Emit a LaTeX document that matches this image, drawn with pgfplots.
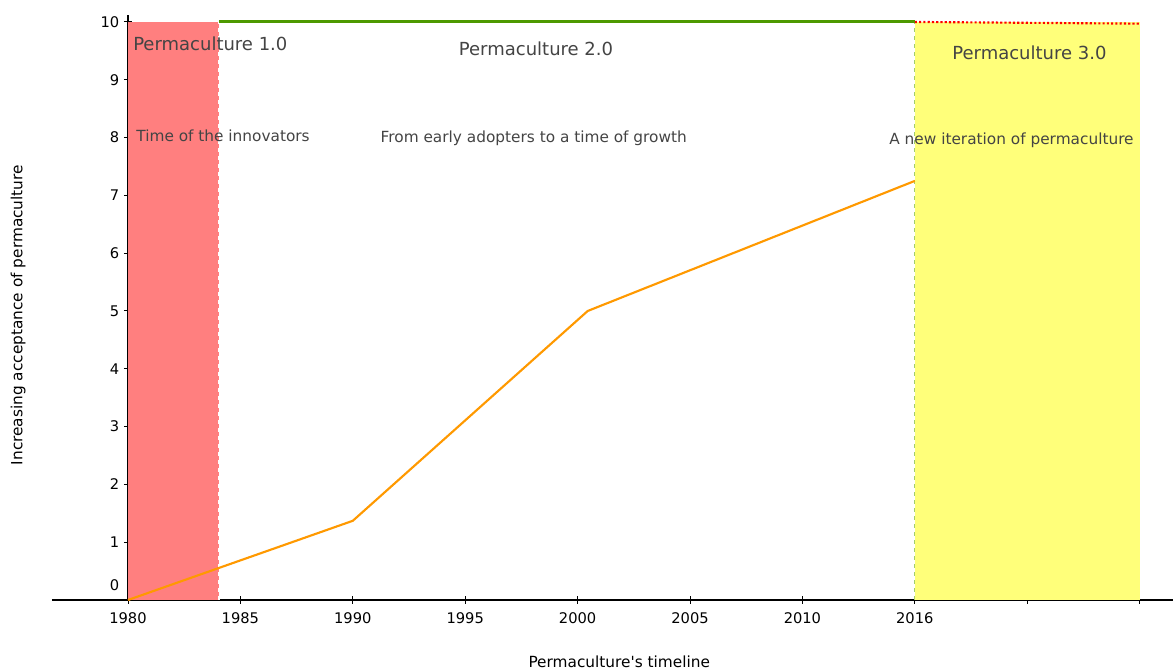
\documentclass[border=0pt]{standalone}
\usepackage{fontspec}
\setmainfont{DejaVu Sans}
\usepackage{pgfplots}
\pgfplotsset{compat=1.18}
\definecolor{bandred}{RGB}{255,127,127}
\definecolor{bandyellow}{RGB}{255,255,122}
\definecolor{topgreen}{RGB}{77,153,0}
\definecolor{lightgreen}{RGB}{160,205,110}
\definecolor{lineorange}{RGB}{255,153,0}
\definecolor{txtgray}{RGB}{68,68,68}
\begin{document}
\begin{tikzpicture}
\begin{axis}[name=ax, scale only axis, width=840.75pt, height=438.75pt,
  xmin=-0.676, xmax=9.297, ymin=0, ymax=10.12,
  axis x line=bottom, axis y line=center,
  axis line style={-, black, line width=0.8pt},
  hide obscured x ticks=false, hide obscured y ticks=false,
  xtick={0,...,9}, xticklabels={1980,1985,1990,1995,2000,2005,2010,2016,{},{}},
  ytick={0,...,10}, yticklabels={\raisebox{22pt}{0},1,2,3,4,5,6,7,8,9,10},
  tick style={black, line width=0.7pt}, major tick length=6pt, tick align=center,
  /pgf/number format/assume math mode=true,
  ticklabel style={font=\fontsize{11}{13}\selectfont, text=black},
  xticklabel style={yshift=-3pt},
  xlabel={Permaculture\textquotesingle s timeline},
  ylabel={Increasing acceptance of permaculture},
  xlabel style={at={(axis description cs:0.506,-0.106)}, anchor=center, font=\fontsize{11.5}{13}\selectfont},
  ylabel style={at={(axis description cs:-0.0303,0.487)}, anchor=center, rotate=90, font=\fontsize{11.5}{13}\selectfont},
  clip=false,
]
% bands
\addplot[draw=none, fill=bandred] coordinates {(0,0) (0.81,0) (0.81,10) (0,10)} -- cycle;
\addplot[draw=none, fill=bandyellow] coordinates {(7,0) (9,0) (9,10) (7,10)} -- cycle;
% dashed verticals
\addplot[white, dashed, line width=0.8pt] coordinates {(0.81,0) (0.81,10)};
\addplot[lightgreen, dashed, line width=0.8pt] coordinates {(7,0) (7,10)};
% top lines
\addplot[topgreen, line width=2.2pt] coordinates {(0.81,10) (7,10)};
\addplot[red, dash pattern=on 1.6pt off 1.6pt, line width=1.6pt] coordinates {(7,10) (9,9.97)};
% acceptance line
\addplot[lineorange, line width=1.6pt] coordinates {(0,0) (2,1.37) (4.09,5) (7,7.25)};
% texts
\node[text=txtgray, font=\fontsize{13.5}{15}\selectfont, anchor=west] at (axis cs:0.005,9.62) {Permaculture 1.0};
\node[text=txtgray, font=\fontsize{13.5}{15}\selectfont] at (axis cs:3.63,9.53) {Permaculture 2.0};
\node[text=txtgray, font=\fontsize{13.5}{15}\selectfont] at (axis cs:8.02,9.46) {Permaculture 3.0};
\node[text=txtgray, font=\fontsize{11.5}{13}\selectfont, anchor=west] at (axis cs:0.033,8.03) {Time of the innovators};
\node[text=txtgray, font=\fontsize{11.5}{13}\selectfont] at (axis cs:3.61,7.98) {From early adopters to a time of growth};
\node[text=txtgray, font=\fontsize{11.5}{13}\selectfont] at (axis cs:7.86,7.96) {A new iteration of permaculture};
\end{axis}
\pgfresetboundingbox
\path (ax.south west) +(-39pt,-53.25pt) (ax.north east) +(0pt,11.25pt);
\end{tikzpicture}
\end{document}
